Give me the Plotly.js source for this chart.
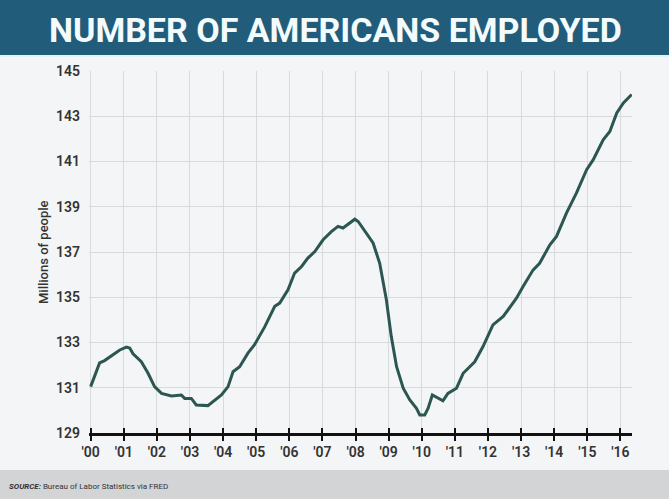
<!DOCTYPE html>
<html>
<head>
<meta charset="utf-8">
<script src="https://cdn.plot.ly/plotly-3.0.1.min.js"></script>
<style>
html,body{margin:0;padding:0;background:#f4f5f6;}
#chart{width:669px;height:499px;}
</style>
</head>
<body>
<div id="chart"></div>
<script>
// Time in years since Jan 2000
const years = [0.00,0.27,0.42,0.67,0.88,1.08,1.18,1.28,1.53,1.73,1.93,2.14,2.44,2.74,2.84,3.04,3.19,3.54,3.75,3.95,
  4.15,4.30,4.50,4.75,4.95,5.26,5.56,5.71,5.96,6.16,6.37,6.56,6.77,7.02,7.27,7.47,7.62,7.82,7.98,8.08,8.33,8.53,8.73,
  8.93,9.08,9.24,9.44,9.64,9.84,9.94,10.09,10.19,10.32,10.64,10.79,11.05,11.25,11.60,11.85,12.15,12.46,12.86,13.06,
  13.36,13.56,13.87,14.07,14.37,14.67,14.98,15.18,15.48,15.68,15.89,16.09,16.34];
// Employed, millions of people
const employed = [131.05,132.1,132.2,132.45,132.67,132.8,132.76,132.5,132.15,131.65,131.05,130.75,130.64,130.68,130.53,130.53,130.24,130.21,130.46,130.68,
  131.05,131.71,131.93,132.53,132.9,133.7,134.6,134.74,135.33,136.07,136.36,136.73,137.02,137.54,137.9,138.13,138.06,138.3,138.45,138.35,137.84,137.4,136.5,
  134.9,133.26,131.93,130.98,130.46,130.09,129.8,129.8,130.09,130.68,130.42,130.75,130.98,131.64,132.15,132.82,133.78,134.15,134.96,135.47,
  136.2,136.5,137.32,137.69,138.72,139.6,140.64,141.08,141.96,142.33,143.15,143.59,143.96];
const xTickVals = [0,1,2,3,4,5,6,7,8,9,10,11,12,13,14,15,16];
const xTickText = ["'00","'01","'02","'03","'04","'05","'06","'07","'08","'09","'10","'11","'12","'13","'14","'15","'16"];
const yTickVals = [129,131,133,135,137,139,141,143,145];

const titleText = "NUMBER OF AMERICANS EMPLOYED";
const yTitle = "Millions of people";
const sourceText = "<b><i>SOURCE:</i></b> Bureau of Labor Statistics via FRED";

// plot area pixels: x 89..632, y 71..433
const L = 89, R = 632, T = 71, B = 433, W = 669, H = 499;
const pw = R - L, ph = B - T;
const px = p => (p - L) / pw;
const py = p => (B - p) / ph;

const traces = [
  {x: years, y: employed, type: 'scatter', mode: 'lines',
   line: {color: '#2c5652', width: 3}, hoverinfo: 'skip', xaxis: 'x', yaxis: 'y'},
  {x: years, y: employed, type: 'scatter', mode: 'lines',
   line: {color: 'rgba(0,0,0,0)', width: 0}, hoverinfo: 'skip', xaxis: 'x2', yaxis: 'y', showlegend: false}
];

const tickFont = {family: 'Roboto, sans-serif', size: 14, color: '#333333', weight: 600};

const layout = {
  width: W, height: H,
  margin: {l: L, r: W - R, t: T, b: H - B, pad: 0},
  paper_bgcolor: '#f4f5f6',
  plot_bgcolor: '#f4f5f6',
  showlegend: false,
  xaxis: {
    range: [-0.05, 16.35], tickmode: 'array', tickvals: xTickVals, ticktext: xTickText,
    showgrid: true, gridcolor: '#d9dadb', gridwidth: 1, zeroline: false,
    showline: true, linecolor: '#111111', linewidth: 2.5,
    ticks: 'outside', ticklen: 5, tickwidth: 2, tickcolor: '#111111',
    tickfont: tickFont, fixedrange: true
  },
  xaxis2: {
    overlaying: 'x', matches: 'x', range: [-0.05, 16.35], tickmode: 'array', tickvals: xTickVals,
    showgrid: false, zeroline: false, showticklabels: false, showline: false,
    ticks: 'inside', ticklen: 5, tickwidth: 2, tickcolor: '#111111', side: 'bottom'
  },
  yaxis: {
    range: [129, 145], tickmode: 'array', tickvals: yTickVals,
    showgrid: true, gridcolor: '#d9dadb', gridwidth: 1, zeroline: false,
    showline: false, ticks: '', tickfont: tickFont, ticklabelstandoff: 8, fixedrange: true
  },
  shapes: [
    {type: 'rect', xref: 'paper', yref: 'paper', x0: px(0), x1: px(W), y0: py(55), y1: py(0),
     fillcolor: '#215d7b', line: {width: 0}, layer: 'above'},
    {type: 'rect', xref: 'paper', yref: 'paper', x0: px(0), x1: px(W), y0: py(57), y1: py(55),
     fillcolor: '#e3f1f3', line: {width: 0}, layer: 'above'},
    {type: 'rect', xref: 'paper', yref: 'paper', x0: px(0), x1: px(W), y0: py(H), y1: py(470),
     fillcolor: '#d3d4d6', line: {width: 0}, layer: 'above'}
  ],
  annotations: [
    {text: titleText, xref: 'paper', yref: 'paper', x: px(335), y: py(30), xanchor: 'center', yanchor: 'middle',
     showarrow: false, font: {family: 'Roboto, sans-serif', size: 34, color: '#f4fbfd', weight: 700}},
    {text: yTitle, xref: 'paper', yref: 'paper', x: px(43), y: py(252), xanchor: 'center', yanchor: 'middle',
     textangle: -90, showarrow: false, font: {family: 'Roboto, sans-serif', size: 13, color: '#333333', weight: 500}},
    {text: sourceText, xref: 'paper', yref: 'paper', x: px(7), y: py(486), xanchor: 'left', yanchor: 'middle',
     showarrow: false, font: {family: 'Roboto, sans-serif', size: 8, color: '#333333'}}
  ]
};

Plotly.newPlot('chart', traces, layout, {displayModeBar: false, staticPlot: true});
</script>
</body>
</html>
